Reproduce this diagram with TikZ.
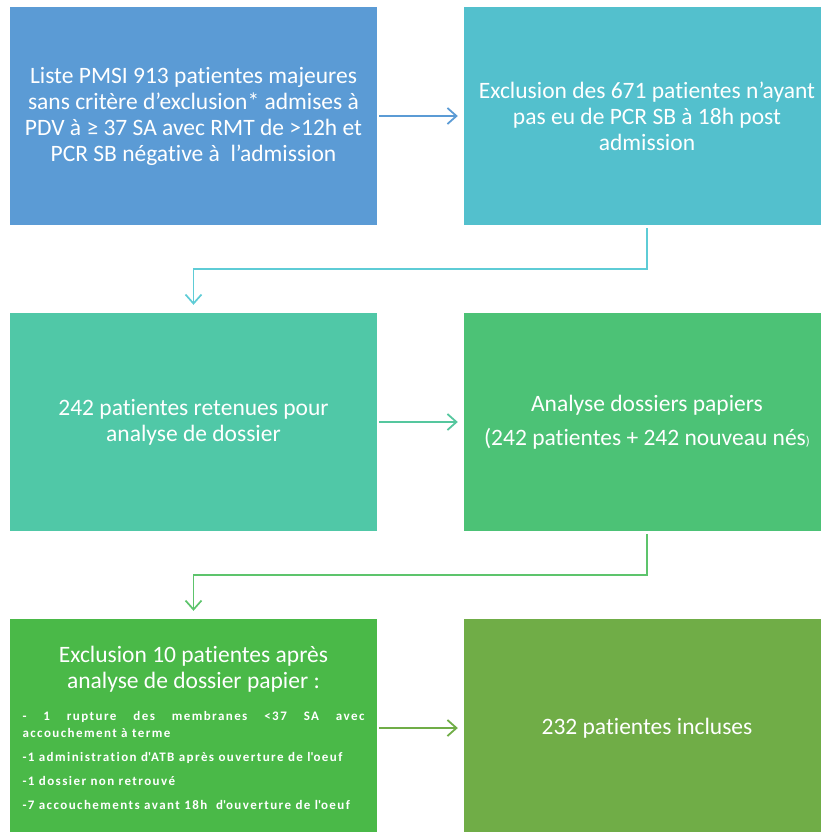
\documentclass[tikz,border=0pt]{standalone}
\usepackage{fontspec}
\setmainfont[Ligatures={TeX,NoCommon}]{Carlito}
\usetikzlibrary{arrows.meta}
\definecolor{bleu}{HTML}{5B9BD5}
\definecolor{turq}{HTML}{53C0CD}
\definecolor{turq_f}{HTML}{5ECCD6}
\definecolor{eau}{HTML}{50C8A7}
\definecolor{eau_f}{HTML}{55C79E}
\definecolor{vert_c}{HTML}{4CC276}
\definecolor{vert_f}{HTML}{5DC46C}
\definecolor{vert}{HTML}{4AB948}
\definecolor{olive}{HTML}{70AD47}
\tikzset{
	bloc/.style = {rectangle, align=center, inner sep=0pt, text=white,
		minimum width=367pt, minimum height=218pt,
		font=\fontsize{23.5}{26}\selectfont},
	bloc_d/.style = {bloc, minimum width=366pt},
	fleche/.style = {-{Straight Barb[length=9pt,width=16pt]}, line width=1.8pt,
		shorten <=2pt, shorten >=6pt},
	coude/.style = {fleche, line width=1.7pt, shorten <=3pt, shorten >=8pt}
}

\begin{document}
\begin{tikzpicture}[x=1pt,y=-1pt]
\useasboundingbox (0,0) rectangle (821,832);
\begin{scope}
\clip (0,0) rectangle (821,832);
\node [bloc, fill=bleu] (b1) at (193.5,116)
	{Liste PMSI 913 patientes majeures\\ sans critère d’exclusion* admises à\\
	PDV à ≥ 37 SA avec RMT de >12h et\\ PCR SB négative à~ l’admission};
\node [bloc_d, fill=turq] (b2) at (647,116)
	{Exclusion des 671 patientes n’ayant\\ pas eu de PCR SB à 18h post\\ admission};
\node [bloc, fill=eau] (b3) at (193.5,422)
	{242 patientes retenues pour\\ analyse de dossier};
\node [bloc_d, fill=vert_c] (b4) at (647,422)
	{Analyse dossiers papiers\\[8pt] (242 patientes + 242 nouveau nés{\fontsize{13}{13}\selectfont)}};
\node [bloc, fill=vert, text width=342pt, align=justify] (b5) at (193.5,728)
	{{\centering Exclusion 10 patientes après\\ analyse de dossier papier :\par}
	\vspace{8pt}
	{\fontsize{13}{17}\selectfont\bfseries\addfontfeatures{LetterSpace=11}\parskip=7pt
	- 1 rupture des membranes <37 SA avec\linebreak accouchement à terme\par
	-1 administration d\textquotesingle ATB après ouverture de l\textquotesingle oeuf\par
	-1 dossier non retrouvé\par
	-7 accouchements avant 18h~ d\textquotesingle ouverture de l\textquotesingle oeuf\par}};
\node [bloc_d, fill=olive] (b6) at (647,728) {232 patientes incluses};
\end{scope}
\draw [fleche, bleu] (b1) -- (b2);
\draw [coude, turq_f] (b2.south) -- ++(0,44) -| (b3.north);
\draw [fleche, eau_f] (b3) -- (b4);
\draw [coude, vert_f] (b4.south) -- ++(0,44) -| (b5.north);
\draw [fleche, olive] (b5) -- (b6);
\end{tikzpicture}
\end{document}
